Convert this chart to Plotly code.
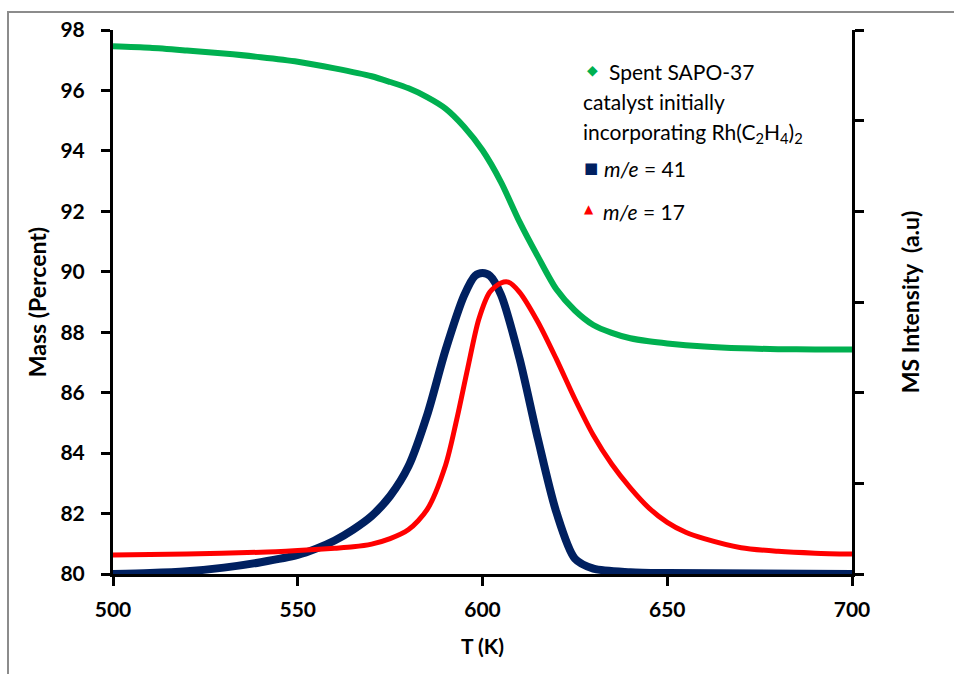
import plotly.graph_objects as go

# ---- data ----
mass_T = [500, 510, 520, 530, 540, 550, 560, 570, 575, 580, 585, 590, 595, 600,
          605, 610, 615, 620, 625, 630, 635, 640, 645, 650, 660, 670, 680, 690, 700]
mass_pct = [97.46, 97.41, 97.32, 97.22, 97.10, 96.95, 96.73, 96.47, 96.28, 96.07,
            95.78, 95.40, 94.80, 94.02, 92.97, 91.66, 90.50, 89.42, 88.72, 88.24,
            87.98, 87.80, 87.70, 87.63, 87.53, 87.47, 87.44, 87.43, 87.43]

m41_T = [500, 510, 520, 530, 540, 550, 555, 560, 565, 570, 575, 580, 585, 590, 595,
         598, 600, 602, 605, 610, 615, 620, 625, 630, 640, 650, 700]
m41_int = [0.0, 0.01, 0.03, 0.07, 0.13, 0.21, 0.28, 0.37, 0.49, 0.64, 0.86, 1.19,
           1.75, 2.47, 3.07, 3.29, 3.32, 3.29, 3.08, 2.38, 1.49, 0.68, 0.17, 0.06,
           0.02, 0.01, 0.0]

m17_T = [500, 520, 540, 550, 560, 565, 570, 575, 580, 585, 590, 593, 596, 599, 602, 605,
         607, 610, 615, 620, 625, 630, 635, 640, 645, 650, 655, 660, 670, 680, 690, 700]
m17_int = [0.21, 0.22, 0.24, 0.26, 0.285, 0.30, 0.33, 0.39, 0.49, 0.71, 1.20, 1.70, 2.27,
           2.81, 3.11, 3.21, 3.22, 3.11, 2.78, 2.37, 1.93, 1.53, 1.21, 0.95, 0.73,
           0.57, 0.46, 0.39, 0.29, 0.25, 0.23, 0.22]

x_ticks = [500, 550, 600, 650, 700]
y_ticks = [80, 82, 84, 86, 88, 90, 92, 94, 96, 98]

GREEN = "#00b050"
BLUE = "#002060"
RED = "#ff0000"
FONT = "Lato"

fig = go.Figure()
fig.add_trace(go.Scatter(x=mass_T, y=mass_pct, mode="lines", line=dict(color=GREEN, width=6, shape="spline", smoothing=0.8),
                         name="Spent SAPO-37 catalyst initially incorporating Rh(C2H4)2"))
fig.add_trace(go.Scatter(x=m41_T, y=m41_int, mode="lines", line=dict(color=BLUE, width=8, shape="spline", smoothing=0.8),
                         name="m/e = 41", yaxis="y2"))
fig.add_trace(go.Scatter(x=m17_T, y=m17_int, mode="lines", line=dict(color=RED, width=5, shape="spline", smoothing=0.8),
                         name="m/e = 17", yaxis="y2"))

L, R, T, B = 113, 102, 30, 100
W, H = 954, 674
pw, ph = W - L - R, H - T - B


def px(x):
    return (x - L) / pw


def py(y):
    return (H - B - y) / ph


tickfont = dict(family=FONT, size=21, color="black", weight="bold")
titlefont = dict(family=FONT, size=23, color="black", weight="bold")
fig.update_layout(
    width=W, height=H, margin=dict(l=L, r=R, t=T, b=B),
    paper_bgcolor="white", plot_bgcolor="white", showlegend=False,
    xaxis=dict(range=[500, 700], tickvals=x_ticks, ticks="outside", ticklen=9, tickwidth=2.5,
               tickcolor="black", showline=True, linecolor="black", linewidth=3, showgrid=False,
               zeroline=False, tickfont=tickfont, ticklabelstandoff=6,
               title=dict(text="T (K)", font=dict(family=FONT, size=21, color="black", weight="bold"), standoff=20)),
    yaxis=dict(range=[80, 98], tickvals=y_ticks, ticks="outside", ticklen=9, tickwidth=2.5,
               tickcolor="black", showline=True, linecolor="black", linewidth=3, showgrid=False,
               zeroline=False, tickfont=tickfont, ticklabelstandoff=12,
               title=dict(text="Mass (Percent)", font=titlefont, standoff=8)),
    yaxis2=dict(range=[0, 6], dtick=1, overlaying="y", side="right", ticks="outside", ticklen=9,
                tickwidth=2.5, tickcolor="black", showline=True, linecolor="black", linewidth=3,
                showgrid=False, zeroline=False, showticklabels=False,
                title=dict(text="MS Intensity  (a.u)", font=titlefont, standoff=40)),
)

# outer grey frame
fig.add_shape(type="rect", xref="paper", yref="paper", x0=px(8), x1=px(1000), y0=py(720), y1=py(12),
              line=dict(color="#8c8c8c", width=2), fillcolor="rgba(0,0,0,0)", layer="below")

lf = dict(family=FONT, size=21, color="black")
ann = [
    (585, 70, "◆", dict(family="DejaVu Sans", size=14, color=GREEN)),
    (607, 72, "Spent SAPO-37", lf),
    (581, 102, "catalyst initially", lf),
    (581, 133, "incorporating Rh(C<sub>2</sub>H<sub>4</sub>)<sub>2</sub>", lf),
    (582, 168, "■", dict(family="DejaVu Sans", size=15, color=BLUE)),
    (602, 168, "<i>m/e</i> = 41", lf),
    (582, 209, "▲", dict(family="DejaVu Sans", size=12, color=RED)),
    (601, 211, "<i>m/e</i> = 17", lf),
]
for x, y, t, f in ann:
    fig.add_annotation(xref="paper", yref="paper", x=px(x), y=py(y), text=t, showarrow=False,
                       xanchor="left", yanchor="middle", font=f, align="left")

fig.write_html("out.html")
